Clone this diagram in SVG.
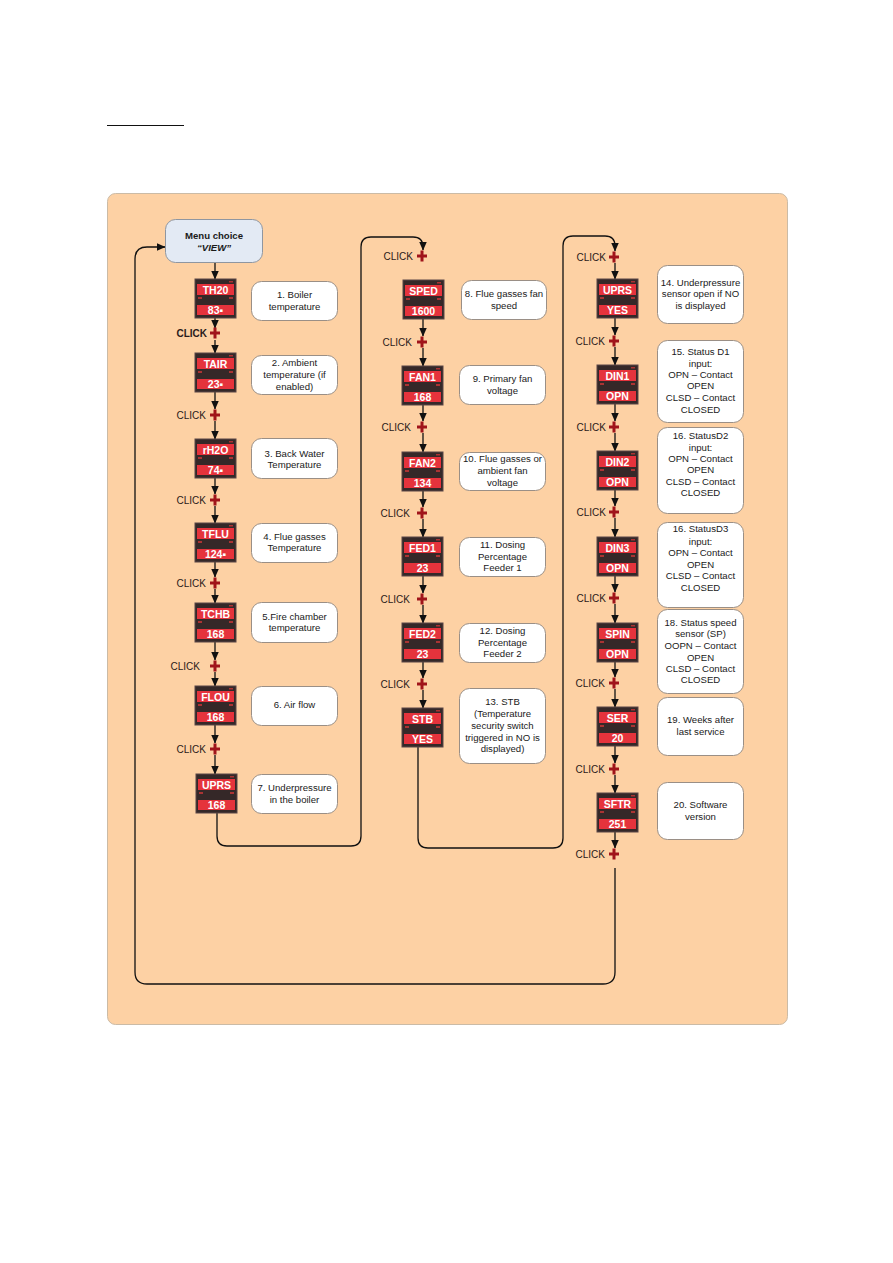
<svg xmlns="http://www.w3.org/2000/svg" xmlns:xlink="http://www.w3.org/1999/xlink" width="893" height="1263" viewBox="0 0 893 1263">
<style>
.conn{fill:none;stroke:#111;stroke-width:1.4}
.arr{fill:none;stroke:#111;stroke-width:1.3;marker-end:url(#ah)}
.desc{fill:#fff;stroke:#9a8f86;stroke-width:1}
.dt{font-family:"Liberation Sans",Arial,sans-serif;font-size:9.6px;fill:#1a1a1a;text-anchor:middle}
.lt{font-family:"Liberation Sans",Arial,sans-serif;font-size:10.5px;font-weight:bold;fill:#fff;text-anchor:middle}
.ck{font-family:"Liberation Sans",Arial,sans-serif;font-size:10px;fill:#2a1a1a;text-anchor:end}
</style>
<defs>
<marker id="ah" markerUnits="userSpaceOnUse" markerWidth="9" markerHeight="9" refX="8.5" refY="4.5" orient="auto">
<path d="M0,0.5 L9,4.5 L0,8.5 z" fill="#111"/>
</marker>
<g id="disp">
<rect x="0" y="0" width="41" height="39" fill="#352828" stroke="#5a4646" stroke-width="1"/>
<rect x="2" y="5" width="37" height="11" fill="#e5333c"/>
<rect x="2" y="26" width="37" height="10" fill="#e5333c"/>
<rect x="3" y="18" width="4" height="2" fill="#a33"/>
<rect x="34" y="18" width="4" height="2" fill="#a33"/>
<rect x="34" y="2" width="4" height="1.5" fill="#a33"/>
</g>
<path id="plus" d="M-5,0 H5 M0,-5.5 V5.5" stroke="#a0141a" stroke-width="3" fill="none"/>
</defs>

<line x1="107" y1="125.5" x2="184" y2="125.5" stroke="#111" stroke-width="1"/>
<rect x="107.5" y="193.5" width="680" height="831" rx="8" fill="#fdd1a4" stroke="#cbbba6" stroke-width="1"/>

<g id="connectors">
<line class="arr" x1="215" y1="263" x2="215" y2="279"/>
<line class="arr" x1="215" y1="318" x2="215" y2="328"/>
<line class="arr" x1="215" y1="340" x2="215" y2="353"/>
<line class="arr" x1="215" y1="392" x2="215" y2="409"/>
<line class="arr" x1="215" y1="421" x2="215" y2="439"/>
<line class="arr" x1="215" y1="478" x2="215" y2="494"/>
<line class="arr" x1="215" y1="506" x2="215" y2="523"/>
<line class="arr" x1="215" y1="562" x2="215" y2="577"/>
<line class="arr" x1="215" y1="589" x2="215" y2="603"/>
<line class="arr" x1="215" y1="642" x2="215" y2="660"/>
<line class="arr" x1="215" y1="672" x2="215" y2="686"/>
<line class="arr" x1="215" y1="725" x2="215" y2="743"/>
<line class="arr" x1="215" y1="755" x2="215" y2="774"/>
<path class="arr" d="M217,813 V836 Q217,846 227,846 H351 Q361,846 361,836 V247 Q361,237 371,237 H413 Q423,237 423,247 V250"/>
<line class="arr" x1="423" y1="319" x2="423" y2="336"/>
<line class="arr" x1="423" y1="348" x2="423" y2="366"/>
<line class="arr" x1="423" y1="404" x2="423" y2="421"/>
<line class="arr" x1="423" y1="433" x2="423" y2="452"/>
<line class="arr" x1="423" y1="490" x2="423" y2="507"/>
<line class="arr" x1="423" y1="519" x2="423" y2="537"/>
<line class="arr" x1="423" y1="576" x2="423" y2="593"/>
<line class="arr" x1="423" y1="605" x2="423" y2="623"/>
<line class="arr" x1="423" y1="662" x2="423" y2="678"/>
<line class="arr" x1="423" y1="690" x2="423" y2="708"/>
<path class="arr" d="M418,747 V838 Q418,848 428,848 H553 Q563,848 563,838 V246 Q563,236 573,236 H605 Q615,236 615,246 V251"/>
<line class="arr" x1="615" y1="263" x2="615" y2="279"/>
<line class="arr" x1="615" y1="317" x2="615" y2="335"/>
<line class="arr" x1="615" y1="347" x2="615" y2="365"/>
<line class="arr" x1="615" y1="403" x2="615" y2="421"/>
<line class="arr" x1="615" y1="433" x2="615" y2="451"/>
<line class="arr" x1="615" y1="490" x2="615" y2="506"/>
<line class="arr" x1="615" y1="518" x2="615" y2="537"/>
<line class="arr" x1="615" y1="575" x2="615" y2="592"/>
<line class="arr" x1="615" y1="604" x2="615" y2="623"/>
<line class="arr" x1="615" y1="662" x2="615" y2="677"/>
<line class="arr" x1="615" y1="689" x2="615" y2="707"/>
<line class="arr" x1="615" y1="746" x2="615" y2="763"/>
<line class="arr" x1="615" y1="775" x2="615" y2="793"/>
<line class="arr" x1="615" y1="832" x2="615" y2="848"/>
<path class="arr" d="M615,868 V972 Q615,984 603,984 H147 Q135,984 135,972 V259 Q135,247 147,247 H165"/>
</g>

<g id="clicks">
<text class="ck" x="207" y="337" font-weight="bold">CLICK</text><use xlink:href="#plus" x="215" y="333"/>
<text class="ck" x="206" y="419">CLICK</text><use xlink:href="#plus" x="215" y="415"/>
<text class="ck" x="206" y="504">CLICK</text><use xlink:href="#plus" x="215" y="500"/>
<text class="ck" x="206" y="587">CLICK</text><use xlink:href="#plus" x="215" y="583"/>
<text class="ck" x="200" y="670">CLICK</text><use xlink:href="#plus" x="215" y="666"/>
<text class="ck" x="206" y="753">CLICK</text><use xlink:href="#plus" x="215" y="749"/>
<text class="ck" x="413" y="260">CLICK</text><use xlink:href="#plus" x="422" y="256"/>
<text class="ck" x="412" y="346">CLICK</text><use xlink:href="#plus" x="422" y="342"/>
<text class="ck" x="411" y="431">CLICK</text><use xlink:href="#plus" x="422" y="427"/>
<text class="ck" x="410" y="517">CLICK</text><use xlink:href="#plus" x="422" y="513"/>
<text class="ck" x="410" y="603">CLICK</text><use xlink:href="#plus" x="422" y="599"/>
<text class="ck" x="410" y="688">CLICK</text><use xlink:href="#plus" x="422" y="684"/>
<text class="ck" x="606" y="261">CLICK</text><use xlink:href="#plus" x="614" y="257"/>
<text class="ck" x="605" y="345">CLICK</text><use xlink:href="#plus" x="614" y="341"/>
<text class="ck" x="606" y="431">CLICK</text><use xlink:href="#plus" x="614" y="427"/>
<text class="ck" x="606" y="516">CLICK</text><use xlink:href="#plus" x="614" y="512"/>
<text class="ck" x="606" y="602">CLICK</text><use xlink:href="#plus" x="614" y="598"/>
<text class="ck" x="605" y="687">CLICK</text><use xlink:href="#plus" x="614" y="683"/>
<text class="ck" x="605" y="773">CLICK</text><use xlink:href="#plus" x="614" y="769"/>
<text class="ck" x="605" y="858">CLICK</text><use xlink:href="#plus" x="614" y="854"/>
</g>

<g id="menu">
<rect x="165.5" y="219.5" width="97" height="43" rx="10" fill="#e3eaf4" stroke="#8f96a0" stroke-width="1"/>
<text class="dt" x="214" y="239" font-size="10" font-weight="bold">Menu choice</text>
<text class="dt" x="214" y="251" font-size="10" font-weight="bold" font-style="italic">“VIEW”</text>
</g>

<g id="d-TH20"><use xlink:href="#disp" x="195" y="279"/><text class="lt" x="215.5" y="294">TH20</text><text class="lt" x="215.5" y="313.5">83▪</text></g>
<g id="d-TAIR"><use xlink:href="#disp" x="195" y="353"/><text class="lt" x="215.5" y="368">TAIR</text><text class="lt" x="215.5" y="387.5">23▪</text></g>
<g id="d-rH2O"><use xlink:href="#disp" x="195" y="439"/><text class="lt" x="215.5" y="454">rH2O</text><text class="lt" x="215.5" y="473.5">74▪</text></g>
<g id="d-TFLU"><use xlink:href="#disp" x="195" y="523"/><text class="lt" x="215.5" y="538">TFLU</text><text class="lt" x="215.5" y="557.5">124▪</text></g>
<g id="d-TCHB"><use xlink:href="#disp" x="195" y="603"/><text class="lt" x="215.5" y="618">TCHB</text><text class="lt" x="215.5" y="637.5">168</text></g>
<g id="d-FLOU"><use xlink:href="#disp" x="195" y="686"/><text class="lt" x="215.5" y="701">FLOU</text><text class="lt" x="215.5" y="720.5">168</text></g>
<g id="d-UPRS1"><use xlink:href="#disp" x="196" y="774"/><text class="lt" x="216.5" y="789">UPRS</text><text class="lt" x="216.5" y="808.5">168</text></g>

<g id="d-SPED"><use xlink:href="#disp" x="403" y="280"/><text class="lt" x="423.5" y="295">SPED</text><text class="lt" x="423.5" y="314.5">1600</text></g>
<g id="d-FAN1"><use xlink:href="#disp" x="402" y="366"/><text class="lt" x="422.5" y="381">FAN1</text><text class="lt" x="422.5" y="400.5">168</text></g>
<g id="d-FAN2"><use xlink:href="#disp" x="402" y="452"/><text class="lt" x="422.5" y="467">FAN2</text><text class="lt" x="422.5" y="486.5">134</text></g>
<g id="d-FED1"><use xlink:href="#disp" x="402" y="537"/><text class="lt" x="422.5" y="552">FED1</text><text class="lt" x="422.5" y="571.5">23</text></g>
<g id="d-FED2"><use xlink:href="#disp" x="402" y="623"/><text class="lt" x="422.5" y="638">FED2</text><text class="lt" x="422.5" y="657.5">23</text></g>
<g id="d-STB"><use xlink:href="#disp" x="402" y="708"/><text class="lt" x="422.5" y="723">STB</text><text class="lt" x="422.5" y="742.5">YES</text></g>

<g id="d-UPRS2"><use xlink:href="#disp" x="597" y="279"/><text class="lt" x="617.5" y="294">UPRS</text><text class="lt" x="617.5" y="313.5">YES</text></g>
<g id="d-DIN1"><use xlink:href="#disp" x="597" y="365"/><text class="lt" x="617.5" y="380">DIN1</text><text class="lt" x="617.5" y="399.5">OPN</text></g>
<g id="d-DIN2"><use xlink:href="#disp" x="597" y="451"/><text class="lt" x="617.5" y="466">DIN2</text><text class="lt" x="617.5" y="485.5">OPN</text></g>
<g id="d-DIN3"><use xlink:href="#disp" x="597" y="537"/><text class="lt" x="617.5" y="552">DIN3</text><text class="lt" x="617.5" y="571.5">OPN</text></g>
<g id="d-SPIN"><use xlink:href="#disp" x="597" y="623"/><text class="lt" x="617.5" y="638">SPIN</text><text class="lt" x="617.5" y="657.5">OPN</text></g>
<g id="d-SER"><use xlink:href="#disp" x="597" y="707"/><text class="lt" x="617.5" y="722">SER</text><text class="lt" x="617.5" y="741.5">20</text></g>
<g id="d-SFTR"><use xlink:href="#disp" x="597" y="793"/><text class="lt" x="617.5" y="808">SFTR</text><text class="lt" x="617.5" y="827.5">251</text></g>

<g id="n1"><rect class="desc" x="251.5" y="281.5" width="86" height="39" rx="10"/><text class="dt" x="294.5" y="297.5">1. Boiler</text><text class="dt" x="294.5" y="309.5">temperature</text></g>
<g id="n2"><rect class="desc" x="251.5" y="355.5" width="86" height="39" rx="10"/><text class="dt" x="294.5" y="366">2. Ambient</text><text class="dt" x="294.5" y="378">temperature (if</text><text class="dt" x="294.5" y="390">enabled)</text></g>
<g id="n3"><rect class="desc" x="251.5" y="438.5" width="86" height="40" rx="10"/><text class="dt" x="294.5" y="456.5">3. Back Water</text><text class="dt" x="294.5" y="468">Temperature</text></g>
<g id="n4"><rect class="desc" x="251.5" y="523.5" width="86" height="39" rx="10"/><text class="dt" x="294.5" y="540">4. Flue gasses</text><text class="dt" x="294.5" y="551">Temperature</text></g>
<g id="n5"><rect class="desc" x="251.5" y="602.5" width="86" height="40" rx="10"/><text class="dt" x="294.5" y="620">5.Fire chamber</text><text class="dt" x="294.5" y="631">temperature</text></g>
<g id="n6"><rect class="desc" x="251.5" y="686.5" width="86" height="39" rx="10"/><text class="dt" x="294.5" y="708">6. Air flow</text></g>
<g id="n7"><rect class="desc" x="251.5" y="774.5" width="86" height="39" rx="10"/><text class="dt" x="294.5" y="791">7. Underpressure</text><text class="dt" x="294.5" y="803">in the boiler</text></g>

<g id="n8"><rect class="desc" x="461.5" y="280.5" width="85" height="39" rx="10"/><text class="dt" x="504" y="297">8. Flue gasses fan</text><text class="dt" x="504" y="309">speed</text></g>
<g id="n9"><rect class="desc" x="459.5" y="365.5" width="86" height="39" rx="10"/><text class="dt" x="502.5" y="382">9. Primary fan</text><text class="dt" x="502.5" y="394">voltage</text></g>
<g id="n10"><rect class="desc" x="459.5" y="452.5" width="86" height="38" rx="10"/><text class="dt" x="502.5" y="462">10. Flue gasses or</text><text class="dt" x="502.5" y="474">ambient fan</text><text class="dt" x="502.5" y="485.5">voltage</text></g>
<g id="n11"><rect class="desc" x="459.5" y="537.5" width="86" height="39" rx="10"/><text class="dt" x="502.5" y="548">11. Dosing</text><text class="dt" x="502.5" y="560">Percentage</text><text class="dt" x="502.5" y="571">Feeder 1</text></g>
<g id="n12"><rect class="desc" x="459.5" y="623.5" width="86" height="39" rx="10"/><text class="dt" x="502.5" y="634">12. Dosing</text><text class="dt" x="502.5" y="646">Percentage</text><text class="dt" x="502.5" y="657">Feeder 2</text></g>
<g id="n13"><rect class="desc" x="459.5" y="688.5" width="86" height="75" rx="10"/><text class="dt" x="502.5" y="705">13. STB</text><text class="dt" x="502.5" y="717">(Temperature</text><text class="dt" x="502.5" y="729">security switch</text><text class="dt" x="502.5" y="741">triggered in NO is</text><text class="dt" x="502.5" y="752">displayed)</text></g>

<g id="n14"><rect class="desc" x="657.5" y="265.5" width="86" height="58" rx="10"/><text class="dt" x="700.5" y="286">14. Underpressure</text><text class="dt" x="700.5" y="297">sensor open if NO</text><text class="dt" x="700.5" y="309">is displayed</text></g>
<g id="n15"><rect class="desc" x="657.5" y="340.5" width="86" height="82" rx="10"/><text class="dt" x="700.5" y="355">15. Status D1</text><text class="dt" x="700.5" y="367">input:</text><text class="dt" x="700.5" y="378">OPN – Contact</text><text class="dt" x="700.5" y="389">OPEN</text><text class="dt" x="700.5" y="401">CLSD – Contact</text><text class="dt" x="700.5" y="413">CLOSED</text></g>
<g id="n16"><rect class="desc" x="657.5" y="427.5" width="86" height="86" rx="10"/><text class="dt" x="700.5" y="439">16. StatusD2</text><text class="dt" x="700.5" y="451">input:</text><text class="dt" x="700.5" y="462">OPN – Contact</text><text class="dt" x="700.5" y="473">OPEN</text><text class="dt" x="700.5" y="485">CLSD – Contact</text><text class="dt" x="700.5" y="496">CLOSED</text></g>
<g id="n17"><rect class="desc" x="657.5" y="522.5" width="86" height="85" rx="10"/><text class="dt" x="700.5" y="532">16. StatusD3</text><text class="dt" x="700.5" y="545">input:</text><text class="dt" x="700.5" y="556">OPN – Contact</text><text class="dt" x="700.5" y="568">OPEN</text><text class="dt" x="700.5" y="579">CLSD – Contact</text><text class="dt" x="700.5" y="591">CLOSED</text></g>
<g id="n18"><rect class="desc" x="657.5" y="609.5" width="86" height="84" rx="10"/><text class="dt" x="700.5" y="626">18. Status speed</text><text class="dt" x="700.5" y="637">sensor (SP)</text><text class="dt" x="700.5" y="649">OOPN – Contact</text><text class="dt" x="700.5" y="661">OPEN</text><text class="dt" x="700.5" y="672">CLSD – Contact</text><text class="dt" x="700.5" y="683">CLOSED</text></g>
<g id="n19"><rect class="desc" x="657.5" y="697.5" width="86" height="58" rx="10"/><text class="dt" x="700.5" y="723">19. Weeks after</text><text class="dt" x="700.5" y="735">last service</text></g>
<g id="n20"><rect class="desc" x="657.5" y="782.5" width="86" height="57" rx="10"/><text class="dt" x="700.5" y="808">20. Software</text><text class="dt" x="700.5" y="820">version</text></g>
</svg>
